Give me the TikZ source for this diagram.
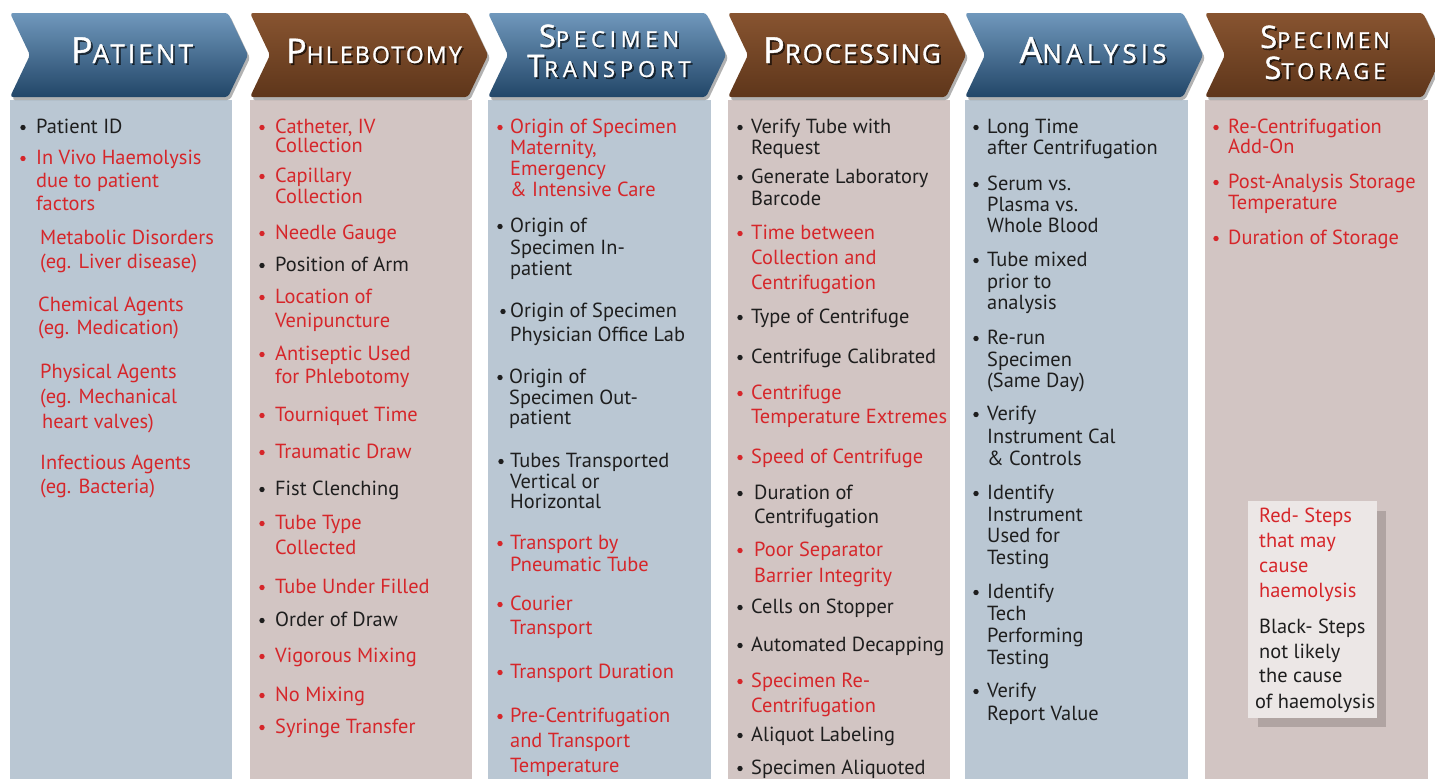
\documentclass[tikz,border=0pt]{standalone}
\usepackage{fontspec}
\setmainfont{PT Sans}
\newfontfamily\hdfont[FakeBold=1.2]{Open Sans}

\definecolor{bluebody}{RGB}{186,199,211}
\definecolor{brownbody}{RGB}{210,197,195}
\definecolor{risk}{RGB}{214,38,42}
\definecolor{safe}{RGB}{30,30,30}
\definecolor{bluetop}{RGB}{112,152,188}
\definecolor{bluemid}{RGB}{64,104,142}
\definecolor{bluebot}{RGB}{34,70,104}
\definecolor{browntop}{RGB}{136,84,48}
\definecolor{brownmid}{RGB}{120,72,40}
\definecolor{brownbot}{RGB}{94,54,27}
\definecolor{keyfill}{RGB}{236,231,230}
\definecolor{keyshadow}{RGB}{176,164,162}

\tikzset{
  txt/.style={anchor=base west, inner sep=0pt, font=\fontsize{20.4}{24}\selectfont},
  hd/.style={anchor=base, inner sep=0pt, text=white, font=\hdfont},
  hdsh/.style={anchor=base, inner sep=0pt, text=black, opacity=.6, font=\hdfont},
  blueshade/.style={top color=bluetop, middle color=bluemid, bottom color=bluebot},
  brownshade/.style={top color=browntop, middle color=brownmid, bottom color=brownbot},
}

% bulleted entry: name, bullet x, text x, first-line centre y, line pitch, colour, lines
\newcommand\Entry[7]{%
  \fill[#6] (#2,{#4+0.5}) circle (2.7);
  \foreach \lline [count=\idx from 0] in {#7}{%
    \node[txt,text=#6,name=#1-\idx] at (#3,{#4+\idx*#5+6.5}) {\lline};}%
}
% entry without bullet: name, text x, first-line centre y, line pitch, colour, lines
\newcommand\Note[6]{%
  \foreach \lline [count=\idx from 0] in {#6}{%
    \node[txt,text=#5,name=#1-\idx] at (#2,{#3+\idx*#4+6.5}) {\lline};}%
}
% chevron header: left x, shading style
\newcommand\Chev[2]{%
  \fill[black,opacity=.3,rounded corners=3] ({#1+2},16) -- ({#1+220},16) -- ({#1+240},58) -- ({#1+220},100) -- ({#1+2},100) -- ({#1+22},58) -- cycle;
  \shade[#2,rounded corners=3] (#1,13) -- ({#1+218},13) -- ({#1+238},55) -- ({#1+218},97) -- (#1,97) -- ({#1+20},55) -- cycle;
}
% small-caps style title word: capital, rest, capital size, rest size, letter spacing
\newcommand\SC[5]{\addfontfeature{LetterSpace=#5}{\fontsize{#3}{#3}\selectfont #1}{\fontsize{#4}{#4}\selectfont #2}}
% title line with drop shadow: name, centre x, baseline y, content
\newcommand\Title[4]{%
  \node[hdsh,name=#1s] at ({#2+1.8},{#3+1.8}) {#4};
  \node[hd,name=#1] at (#2,#3) {#4};
}

\begin{document}
\begin{tikzpicture}[x=1pt,y=-1pt]
\useasboundingbox (0,0) rectangle (1435,779);
\fill[white] (0,0) rectangle (1435,779);

% column bodies
\fill[bluebody]  (10,100)   rectangle (232,779);
\fill[brownbody] (250,100)  rectangle (472,779);
\fill[bluebody]  (488,100)  rectangle (711,779);
\fill[brownbody] (728,100)  rectangle (950,779);
\fill[bluebody]  (965,100)  rectangle (1188,779);
\fill[brownbody] (1205,100) rectangle (1428,779);

% chevron headers
\begin{scope}
\clip (0,0) rectangle (1435,779);
\Chev{10}{blueshade}
\Chev{250}{brownshade}
\Chev{488}{blueshade}
\Chev{728}{brownshade}
\Chev{965}{blueshade}
\Chev{1205}{brownshade}
\end{scope}

\Title{h1}{132}{63}{\SC{P}{ATIENT}{36}{26}{12}}
\Title{h2}{374}{63}{\SC{P}{HLEBOTOMY}{34}{23}{9.5}}
\Title{h3a}{609}{47}{\SC{S}{PECIMEN}{31}{22}{22}}
\Title{h3b}{609}{77}{\SC{T}{RANSPORT}{31}{22}{22}}
\Title{h4}{852}{63}{\SC{P}{ROCESSING}{36}{26}{7}}
\Title{h5}{1093}{63}{\SC{A}{NALYSIS}{36}{26}{16}}
\Title{h6a}{1325}{48}{\SC{S}{PECIMEN}{31}{22}{14}}
\Title{h6b}{1325}{79}{\SC{S}{TORAGE}{31}{22}{18}}

% Patient
\Entry{p1}{23}{36}{127}{23}{safe}{Patient ID}
\Entry{p2}{23}{36}{158}{23}{risk}{In Vivo Haemolysis,due to patient,factors}
\Note{p3}{40}{238}{24}{risk}{Metabolic Disorders,{(eg. Liver disease)}}
\Note{p4}{38}{305}{23}{risk}{Chemical Agents,{(eg. Medication)}}
\Note{p5}{40}{372}{25}{risk}{Physical Agents,{(eg. Mechanical}}
\Note{p5b}{42}{422}{0}{risk}{{heart valves)}}
\Note{p6}{40}{463}{24}{risk}{Infectious Agents,{(eg. Bacteria)}}

% Phlebotomy
\Entry{c1}{262}{275}{127}{19}{risk}{{Catheter, IV},Collection}
\Entry{c2}{262}{275}{176}{21}{risk}{Capillary,Collection}
\Entry{c3}{262}{275}{233}{0}{risk}{Needle Gauge}
\Entry{c4}{262}{275}{265}{0}{safe}{Position of Arm}
\Entry{c5}{262}{275}{297}{24}{risk}{Location of,Venipuncture}
\Entry{c6}{262}{275}{354}{23}{risk}{Antiseptic Used,for Phlebotomy}
\Entry{c7}{262}{275}{415}{0}{risk}{Tourniquet Time}
\Entry{c8}{262}{275}{452}{0}{risk}{Traumatic Draw}
\Entry{c9}{262}{275}{489}{0}{safe}{Fist Clenching}
\Entry{c10}{262}{275}{523}{25}{risk}{Tube Type,Collected}
\Entry{c11}{262}{275}{587}{0}{risk}{Tube Under Filled}
\Entry{c12}{262}{275}{620}{0}{safe}{Order of Draw}
\Entry{c13}{262}{275}{656}{0}{risk}{Vigorous Mixing}
\Entry{c14}{262}{275}{695}{0}{risk}{No Mixing}
\Entry{c15}{262}{275}{727}{0}{risk}{Syringe Transfer}

% Specimen transport
\Entry{t1}{500}{510}{127}{21}{risk}{Origin of Specimen,{Maternity,},Emergency,\& Intensive Care}
\Entry{t2}{500}{510}{226}{21.5}{safe}{Origin of,Specimen In-,patient}
\Entry{t3}{503}{510}{311}{24}{safe}{Origin of Specimen,Physician Office Lab}
\Entry{t4}{500}{509}{377}{20.5}{safe}{Origin of,Specimen Out-,patient}
\Entry{t5}{501}{510}{461}{20.5}{safe}{Tubes Transported,Vertical or,Horizontal}
\Entry{t6}{500}{510}{543}{22}{risk}{Transport by,Pneumatic Tube}
\Entry{t7}{500}{510}{604}{24}{risk}{Courier,Transport}
\Entry{t8}{500}{510}{672}{0}{risk}{Transport Duration}
\Entry{t9}{500}{510}{716}{25}{risk}{Pre-Centrifugation,and Transport,Temperature}

% Processing
\Entry{r1}{740}{751}{127}{21}{safe}{Verify Tube with,Request}
\Entry{r2}{740}{751}{177}{22}{safe}{Generate Laboratory,Barcode}
\Entry{r3}{740}{751}{233}{25}{risk}{Time between,Collection and,Centrifugation}
\Entry{r4}{740}{751}{317}{0}{safe}{Type of Centrifuge}
\Entry{r5}{740}{751}{357}{0}{safe}{Centrifuge Calibrated}
\Entry{r6}{740}{751}{393}{24}{risk}{Centrifuge,Temperature Extremes}
\Entry{r7}{740}{751}{457}{0}{risk}{Speed of Centrifuge}
\Entry{r8}{740}{754}{493}{24}{safe}{Duration of,Centrifugation}
\Entry{r9}{740}{754}{550}{26}{risk}{Poor Separator,Barrier Integrity}
\Entry{r10}{740}{751}{607}{0}{safe}{Cells on Stopper}
\Entry{r11}{740}{751}{645}{0}{safe}{Automated Decapping}
\Entry{r12}{740}{751}{681}{25}{risk}{Specimen Re-,Centrifugation}
\Entry{r13}{740}{751}{735}{0}{safe}{Aliquot Labeling}
\Entry{r14}{740}{751}{768}{0}{safe}{Specimen Aliquoted}

% Analysis
\Entry{a1}{976}{987}{127}{21}{safe}{Long Time,after Centrifugation}
\Entry{a2}{976}{987}{184}{21}{safe}{Serum vs.,Plasma vs.,Whole Blood}
\Entry{a3}{976}{987}{260}{21.5}{safe}{Tube mixed,prior to,analysis}
\Entry{a4}{976}{987}{338}{21.5}{safe}{Re-run,Specimen,{(Same Day)}}
\Entry{a5}{976}{987}{414}{22.5}{safe}{Verify,Instrument Cal,\& Controls}
\Entry{a6}{976}{987}{493}{21.7}{safe}{Identify,Instrument,Used for,Testing}
\Entry{a7}{976}{987}{592}{22}{safe}{Identify,Tech,Performing,Testing}
\Entry{a8}{976}{987}{691}{23}{safe}{Verify,Report Value}

% Specimen storage
\Entry{s1}{1216}{1228}{127}{20}{risk}{Re-Centrifugation,Add-On}
\Entry{s2}{1216}{1228}{182}{21}{risk}{Post-Analysis Storage,Temperature}
\Entry{s3}{1216}{1228}{238}{0}{risk}{Duration of Storage}

% colour key
\fill[keyshadow] (1258,511) rectangle (1386,727);
\fill[keyfill] (1248,501) rectangle (1377,718);
\Note{k1}{1259}{516}{25}{risk}{Red- Steps,that may,cause,haemolysis}
\Note{k2}{1259}{627}{24.5}{safe}{Black- Steps,not likely,the cause}
\Note{k3}{1255}{702}{0}{safe}{of haemolysis}
\end{tikzpicture}
\end{document}
